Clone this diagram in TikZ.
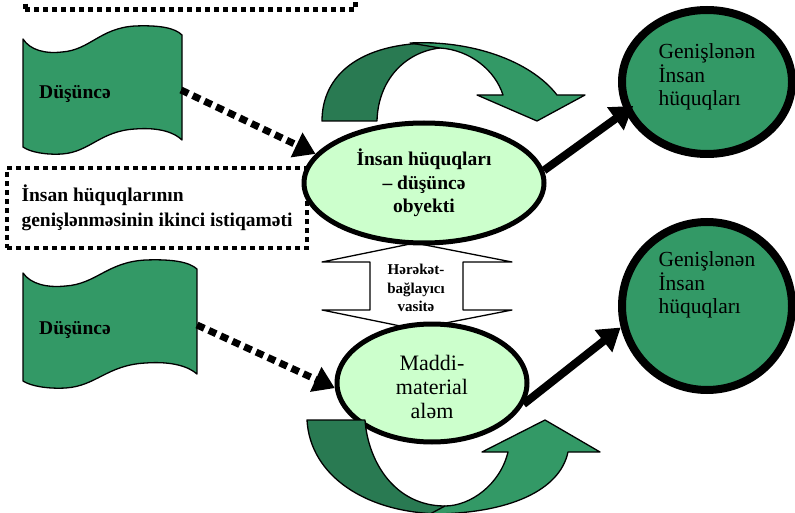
\documentclass[tikz,border=0pt]{standalone}
\usepackage{fontspec}
\setmainfont{Liberation Serif}
\usetikzlibrary{shapes.geometric,arrows.meta}
\definecolor{lgreen}{HTML}{CCFFCC}
\definecolor{mgreen}{HTML}{339966}
\definecolor{dgreen}{RGB}{41,122,82}
\tikzset{
  banner/.pic={
    \draw[fill=mgreen, line width=1.3pt, line join=round]
      (0,0) .. controls (7,11) and (22,15) .. (39,13)
      .. controls (67,11) and (77,-11) .. (112,-13)
      .. controls (137,-14) and (152,-11) .. (159,-4)
      -- (159,101)
      .. controls (152,94) and (137,88) .. (112,90)
      .. controls (77,92) and (67,113) .. (39,115)
      .. controls (22,116) and (7,113) .. (0,108) -- cycle;
  }
}
\begin{document}
\begin{tikzpicture}[x=1pt,y=-1pt,
  dotbox/.style={draw, line width=4.5pt, dash pattern=on 5pt off 4pt},
  dotarrow/.style={line width=7pt, dash pattern=on 8pt off 5pt, -{Triangle[length=21pt,width=26pt]}},
  thickarrow/.style={line width=8pt, -{Triangle[length=22pt,width=27pt]}},
  oval/.style={ellipse, draw, line width=5pt, fill=lgreen, inner sep=0pt},
  goal/.style={ellipse, draw, line width=8pt, fill=mgreen, inner sep=0pt},
  blk/.style={draw, line width=1.3pt, line join=round},
  boldtxt/.style={font=\fontsize{19.5}{25}\selectfont\bfseries},
  regtxt/.style={font=\fontsize{21.5}{23.5}\selectfont},
]
\useasboundingbox (0,0) rectangle (795,513);
\clip (0,0) rectangle (795,513);

% dotted boxes
\node[dotbox, minimum width=330pt, minimum height=60pt, anchor=south west] (topbox) at (23,12) {};
\node[dotbox, minimum width=300pt, minimum height=80pt, align=left, boldtxt] (midbox) at (157,208)
  {İnsan hüquqlarının\\genişlənməsinin ikinci istiqaməti};

% banners
\pic at (23,39) {banner};
\pic[xscale=1.094] at (23,273) {banner};
\node[boldtxt] (d1) at (75,94) {Düşüncə};
\node[boldtxt] (d2) at (75,330) {Düşüncə};
\coordinate (b1r) at (181,90);
\coordinate (b2r) at (197,325);

% double block arrow
\draw[blk, fill=white] (415,243) -- (512,262) -- (463,262) -- (463,310) -- (512,310)
  -- (415,329) -- (322,310) -- (370,310) -- (370,262) -- (322,262) -- cycle;
\node[font=\fontsize{15}{18.5}\selectfont\bfseries, align=center] (h) at (416,288)
  {Hərəkət-\\bağlayıcı\\vasitə};

% ellipses
\node[oval, minimum width=240pt, minimum height=120pt, align=center,
  font=\fontsize{19.5}{23.5}\selectfont\bfseries] (e1) at (424,183)
  {İnsan hüquqları\\– düşüncə\\obyekti};
\node[oval, minimum width=190pt, minimum height=118pt] (e2) at (432,383) {};
\node[align=center, font=\fontsize{22}{24}\selectfont] (e2t) at (432,387) {Maddi-\\material\\aləm};

% goal circles
\node[goal, minimum width=170pt, minimum height=144pt] (c1) at (707,82) {};
\node[goal, minimum width=170pt, minimum height=168pt] (c2) at (707,306) {};
\node[regtxt, align=left, anchor=west] (c1t) at (655,77) {Genişlənən\\İnsan\\hüquqları};
\node[regtxt, align=left, anchor=west] (c2t) at (655,285) {Genişlənən\\İnsan\\hüquqları};

% top curved arrow
\draw[blk, fill=dgreen] (322,121) .. controls (322,75) and (360,43) .. (433,43)
  -- (440,48) .. controls (405,52) and (378,80) .. (377,121) -- cycle;
\draw[blk, fill=mgreen] (410,43) .. controls (470,40) and (530,60) .. (557,95)
  -- (585,95) -- (537,121) -- (477,95) -- (503,95)
  .. controls (495,70) and (470,50) .. (440,48) -- cycle;

% bottom curved arrow
\draw[blk, fill=dgreen] (307,420) -- (365,420) .. controls (368,462) and (395,506) .. (445,506)
  -- (445,514) .. controls (365,514) and (310,475) .. (307,420) -- cycle;
\draw[blk, fill=mgreen] (430,514) -- (445,506) .. controls (470,506) and (500,485) .. (508,452)
  -- (482,452) -- (545,420) -- (600,452) -- (568,452)
  .. controls (560,490) and (510,514) .. (430,514) -- cycle;

% connectors
\draw[dotarrow] (b1r) -- (e1.165);
\draw[dotarrow] (b2r) -- (e2.183);
\draw[thickarrow, shorten >=-10pt] (e1.6) -- (c1.200);
\draw[thickarrow] (e2.-13) -- (c2.194);
\end{tikzpicture}
\end{document}
